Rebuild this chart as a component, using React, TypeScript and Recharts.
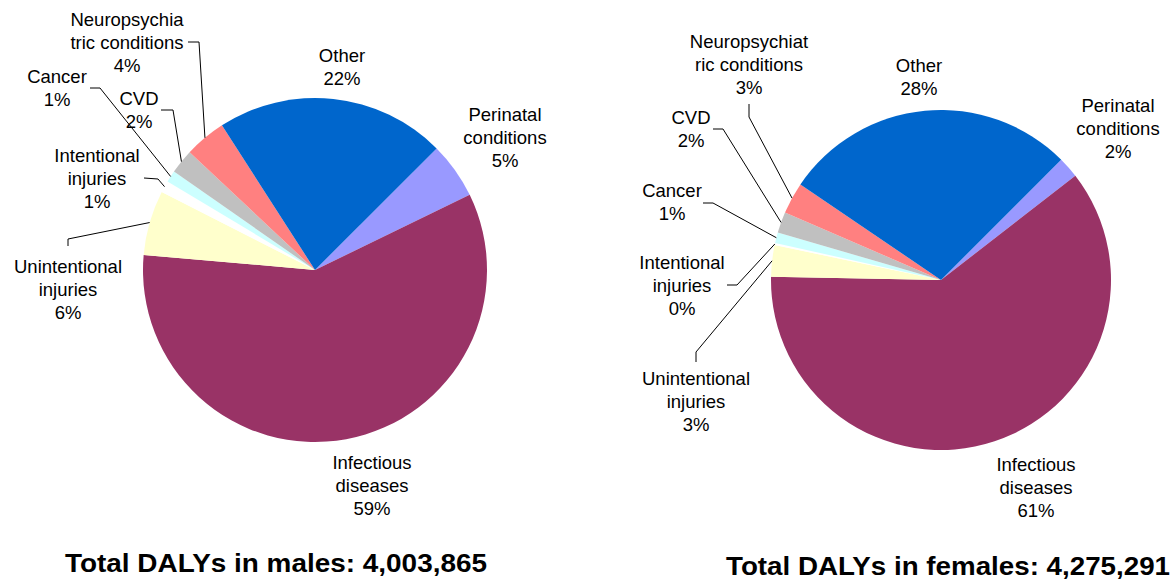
import React from "react";
import { PieChart, Pie, Cell } from "recharts";

// ---- data (clockwise order starting at the top-right) ----
const categories = [
  "Perinatal conditions",
  "Infectious diseases",
  "Unintentional injuries",
  "Intentional injuries",
  "Cancer",
  "CVD",
  "Neuropsychiatric conditions",
  "Other",
];
const maleShares = [5.3, 58.6, 6.1, 1.1, 1.1, 2.3, 3.9, 21.6];
const femaleShares = [2, 60.8, 3, 0.2, 1, 2, 3, 28];
const maleLabelText = [
  ["Perinatal", "conditions"],
  ["Infectious", "diseases"],
  ["Unintentional", "injuries"],
  ["Intentional", "injuries"],
  ["Cancer"],
  ["CVD"],
  ["Neuropsychia", "tric conditions"],
  ["Other"],
];
const femaleLabelText = [
  ["Perinatal", "conditions"],
  ["Infectious", "diseases"],
  ["Unintentional", "injuries"],
  ["Intentional", "injuries"],
  ["Cancer"],
  ["CVD"],
  ["Neuropsychiat", "ric conditions"],
  ["Other"],
];
const maleTitle = "Total DALYs in males:  4,003,865";
const femaleTitle = "Total DALYs in females:  4,275,291";

// ---- styles / layout ----
const colors = ["#9999FF", "#993366", "#FFFFCC", "#FFFFFF", "#CCFFFF", "#C0C0C0", "#FF8080", "#0066CC"];
const FONT = "'Liberation Sans', Arial, sans-serif";
const LINE_H = 23;

type LabelPos = { x: number; y: number; line?: number[][] };
// text block position relative to pie centre; optional elbow points of leader line
const maleLabelPos: LabelPos[] = [
  { x: 190, y: -156 },
  { x: 57, y: 192 },
  { x: -247, y: -4, line: [[-247, -24], [-247, -31]] },
  { x: -218, y: -115, line: [[-171, -92], [-157, -91]] },
  { x: -258, y: -194, line: [[-225, -182], [-215, -182]] },
  { x: -176, y: -172, line: [[-154, -160], [-142, -160]] },
  { x: -188, y: -251, line: [[-127, -228], [-116, -228]] },
  { x: 27, y: -215 },
];
const femaleLabelPos: LabelPos[] = [
  { x: 177, y: -175 },
  { x: 95, y: 184 },
  { x: -245, y: 98, line: [[-245, 82], [-245, 72]] },
  { x: -259, y: -18, line: [[-214, 5], [-204, 5]] },
  { x: -269, y: -90, line: [[-238, -77], [-228, -77]] },
  { x: -250, y: -163, line: [[-228, -151], [-218, -151]] },
  { x: -192, y: -239, line: [[-192, -176], [-192, -163]] },
  { x: -22, y: -215 },
];

const RADIAN = Math.PI / 180;

function makeLabel(texts: string[][], pos: LabelPos[]) {
  return (props: any) => {
    const { cx, cy, midAngle, outerRadius, percent, index } = props;
    const p = pos[index];
    const lines = [...texts[index], `${Math.round(percent * 100)}%`];
    const ex = cx + outerRadius * Math.cos(-midAngle * RADIAN);
    const ey = cy + outerRadius * Math.sin(-midAngle * RADIAN);
    let path: string | null = null;
    if (p.line) {
      const pts = p.line.map(([x, y]) => `${cx + x},${cy + y}`);
      path = `M${pts.join(" L")} L${ex},${ey}`;
    }
    return (
      <g key={`lbl-${index}`}>
        {path && <path d={path} stroke="#000" strokeWidth={1} fill="none" />}
        {lines.map((t, i) => (
          <text
            key={i}
            x={cx + p.x}
            y={cy + p.y + i * LINE_H}
            textAnchor="middle"
            dominantBaseline="central"
            fontFamily={FONT}
            fontSize={18.5}
            fill="#000"
          >
            {t}
          </text>
        ))}
      </g>
    );
  };
}

const maleData = categories.map((name, i) => ({ name, value: maleShares[i] }));
const femaleData = categories.map((name, i) => ({ name, value: femaleShares[i] }));

export default function App() {
  return (
    <div style={{ position: "absolute", left: 0, top: 0, width: 1173, height: 581, background: "#fff" }}>
      <PieChart width={1173} height={581} margin={{ top: 0, right: 0, bottom: 0, left: 0 }}>
        <Pie
          data={maleData}
          dataKey="value"
          nameKey="name"
          cx={315}
          cy={270}
          outerRadius={172}
          startAngle={45}
          endAngle={-315}
          stroke="none"
          isAnimationActive={false}
          labelLine={false}
          label={makeLabel(maleLabelText, maleLabelPos)}
        >
          {maleData.map((d, i) => (
            <Cell key={d.name} fill={colors[i]} />
          ))}
        </Pie>
        <Pie
          data={femaleData}
          dataKey="value"
          nameKey="name"
          cx={941}
          cy={280}
          outerRadius={170}
          startAngle={45}
          endAngle={-315}
          stroke="none"
          isAnimationActive={false}
          labelLine={false}
          label={makeLabel(femaleLabelText, femaleLabelPos)}
        >
          {femaleData.map((d, i) => (
            <Cell key={d.name} fill={colors[i]} />
          ))}
        </Pie>
        <text
          x={65}
          y={572}
          fontFamily={FONT}
          fontWeight="bold"
          fontSize={25}
          textLength={422}
          lengthAdjust="spacingAndGlyphs"
          fill="#000"
        >
          {maleTitle}
        </text>
        <text
          x={726}
          y={575}
          fontFamily={FONT}
          fontWeight="bold"
          fontSize={25}
          textLength={444}
          lengthAdjust="spacingAndGlyphs"
          fill="#000"
        >
          {femaleTitle}
        </text>
      </PieChart>
    </div>
  );
}
